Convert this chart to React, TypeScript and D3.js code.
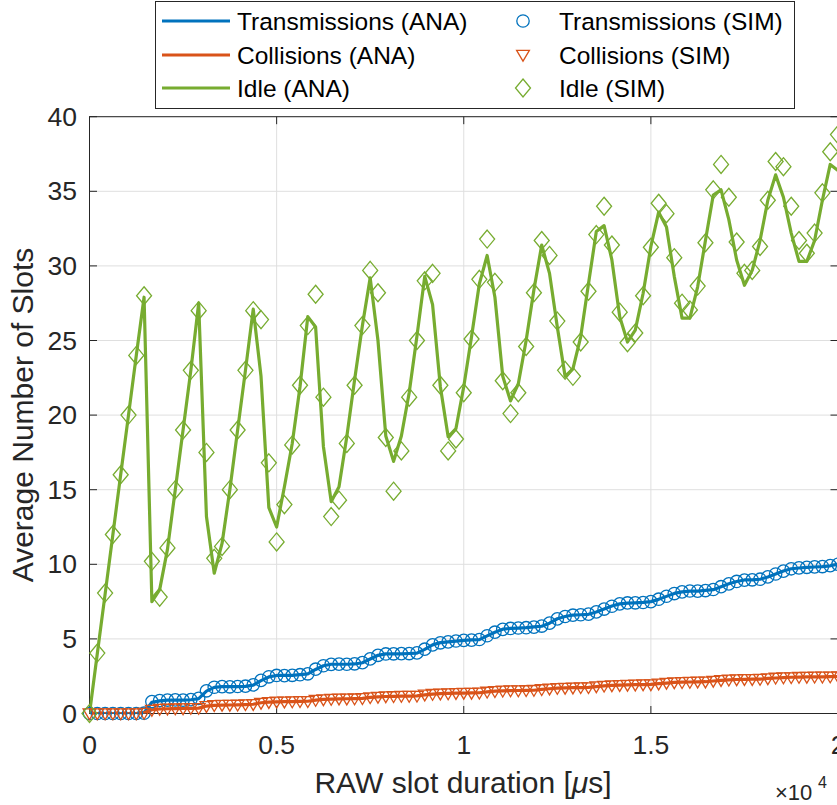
import React from "react";
import * as d3 from "d3";

const xValues = [0, 208, 417, 625, 833, 1042, 1250, 1458, 1667, 1875, 2083, 2292, 2500, 2708, 2917, 3125, 3333, 3542, 3750, 3958, 4167, 4375, 4583, 4792, 5000, 5208, 5417, 5625, 5833, 6042, 6250, 6458, 6667, 6875, 7083, 7292, 7500, 7708, 7917, 8125, 8333, 8542, 8750, 8958, 9167, 9375, 9583, 9792, 10000, 10208, 10417, 10625, 10833, 11042, 11250, 11458, 11667, 11875, 12083, 12292, 12500, 12708, 12917, 13125, 13333, 13542, 13750, 13958, 14167, 14375, 14583, 14792, 15000, 15208, 15417, 15625, 15833, 16042, 16250, 16458, 16667, 16875, 17083, 17292, 17500, 17708, 17917, 18125, 18333, 18542, 18750, 18958, 19167, 19375, 19583, 19792, 20000];

const transAna = [0, 0, 0, 0, 0, 0, 0, 0.05, 0.75, 0.85, 0.9, 0.9, 0.9, 0.92, 1.0, 1.5, 1.75, 1.8, 1.8, 1.8, 1.82, 1.9, 2.2, 2.45, 2.55, 2.55, 2.55, 2.6, 2.65, 2.95, 3.2, 3.3, 3.3, 3.3, 3.32, 3.4, 3.65, 3.9, 4.0, 4.0, 4.0, 4.02, 4.05, 4.3, 4.6, 4.75, 4.8, 4.85, 4.9, 4.93, 4.95, 5.2, 5.45, 5.65, 5.7, 5.72, 5.75, 5.8, 5.85, 6.05, 6.35, 6.5, 6.6, 6.62, 6.65, 6.8, 7.0, 7.2, 7.35, 7.4, 7.42, 7.45, 7.5, 7.65, 7.85, 8.05, 8.15, 8.2, 8.2, 8.25, 8.3, 8.5, 8.7, 8.85, 8.95, 8.95, 9.0, 9.15, 9.35, 9.55, 9.7, 9.75, 9.8, 9.82, 9.85, 9.9, 10.0];
const transSim = [0, 0, 0, 0, 0, 0, 0, 0.02, 0.8, 0.87, 0.9, 0.91, 0.9, 0.93, 1.02, 1.52, 1.76, 1.8, 1.79, 1.81, 1.83, 1.92, 2.22, 2.46, 2.55, 2.54, 2.56, 2.6, 2.66, 2.97, 3.2, 3.29, 3.31, 3.3, 3.33, 3.41, 3.66, 3.9, 3.99, 4.0, 4.01, 4.02, 4.06, 4.31, 4.6, 4.74, 4.8, 4.86, 4.9, 4.92, 4.96, 5.21, 5.45, 5.64, 5.7, 5.73, 5.75, 5.79, 5.86, 6.06, 6.34, 6.5, 6.59, 6.62, 6.66, 6.81, 7.0, 7.19, 7.35, 7.41, 7.42, 7.44, 7.5, 7.66, 7.86, 8.04, 8.15, 8.21, 8.2, 8.24, 8.31, 8.5, 8.69, 8.85, 8.94, 8.96, 9.0, 9.16, 9.35, 9.54, 9.7, 9.76, 9.8, 9.83, 9.85, 9.91, 10.0];

const collAna = [0, 0, 0, 0, 0, 0, 0, 0.05, 0.25, 0.3, 0.32, 0.33, 0.34, 0.35, 0.36, 0.5, 0.55, 0.56, 0.57, 0.58, 0.6, 0.62, 0.72, 0.76, 0.78, 0.79, 0.8, 0.81, 0.82, 0.9, 0.95, 0.97, 0.98, 0.99, 1.0, 1.01, 1.08, 1.12, 1.14, 1.15, 1.16, 1.17, 1.18, 1.25, 1.3, 1.33, 1.35, 1.36, 1.37, 1.38, 1.39, 1.45, 1.5, 1.52, 1.53, 1.54, 1.55, 1.56, 1.62, 1.66, 1.7, 1.72, 1.73, 1.74, 1.75, 1.8, 1.85, 1.88, 1.9, 1.92, 1.93, 1.94, 1.95, 2.0, 2.04, 2.08, 2.1, 2.11, 2.12, 2.13, 2.18, 2.22, 2.26, 2.28, 2.29, 2.3, 2.31, 2.35, 2.38, 2.41, 2.43, 2.44, 2.45, 2.45, 2.46, 2.47, 2.48];
const collSim = [0, 0, 0, 0, 0, 0, 0, 0.03, 0.24, 0.3, 0.31, 0.33, 0.34, 0.36, 0.36, 0.49, 0.55, 0.57, 0.57, 0.58, 0.61, 0.62, 0.71, 0.76, 0.79, 0.79, 0.8, 0.82, 0.82, 0.9, 0.94, 0.97, 0.99, 0.99, 1.0, 1.02, 1.08, 1.11, 1.14, 1.15, 1.17, 1.17, 1.18, 1.26, 1.3, 1.33, 1.34, 1.36, 1.38, 1.38, 1.39, 1.45, 1.49, 1.52, 1.54, 1.54, 1.55, 1.57, 1.62, 1.66, 1.7, 1.71, 1.73, 1.75, 1.75, 1.81, 1.85, 1.88, 1.9, 1.91, 1.93, 1.95, 1.95, 2.0, 2.05, 2.08, 2.09, 2.11, 2.13, 2.13, 2.18, 2.23, 2.26, 2.28, 2.3, 2.3, 2.31, 2.35, 2.39, 2.41, 2.42, 2.44, 2.45, 2.46, 2.46, 2.47, 2.48];

const idleAna = [0, 4, 8, 12, 16, 20, 24, 27.9, 7.5, 8.3, 11, 15, 19, 23, 27.5, 13.2, 9.4, 11.4, 15, 19, 23, 27.1, 22.6, 13.8, 12.5, 15.2, 18.1, 21.9, 26.6, 25.9, 17.9, 14.2, 15.2, 18.55, 22.35, 26.0, 29.2, 25.0, 18.6, 16.9, 18.6, 21.5, 25.3, 29.3, 27.4, 21.9, 18.55, 19.1, 21.9, 25.25, 28.8, 30.7, 27.9, 22.6, 20.95, 22.1, 25.0, 28.4, 31.4, 29.5, 25.9, 22.6, 23.1, 25.25, 28.8, 32.3, 32.7, 30.4, 26.6, 24.9, 25.7, 28.15, 31.3, 33.6, 32.6, 29.3, 26.5, 26.5, 28.6, 31.7, 34.75, 35.1, 33.1, 30.4, 28.7, 29.7, 31.7, 34.4, 36.1, 34.6, 32.2, 30.3, 30.3, 31.7, 34.4, 36.8, 36.4];
const idleSim = [0, 4.05, 8.07, 12, 16, 20, 24, 28, 10.2, 7.8, 11.1, 15, 19, 23, 27, 17.5, 10.4, 11.2, 15, 19, 23, 27, 26.4, 16.8, 11.5, 14, 18, 22, 26, 28.1, 21.2, 13.2, 14.3, 18.1, 22.0, 26.0, 29.7, 28.2, 18.5, 14.9, 17.6, 21.2, 25.0, 29.0, 29.5, 22.0, 17.6, 18.4, 21.5, 25.1, 29.1, 31.8, 28.9, 22.3, 20.1, 21.5, 24.6, 28.2, 31.7, 30.7, 26.3, 23.0, 22.6, 24.9, 28.3, 32.1, 34.0, 31.4, 26.9, 24.85, 25.5, 28.0, 31.25, 34.2, 33.5, 30.55, 27.5, 27.05, 28.65, 31.55, 35.1, 36.8, 34.6, 31.6, 29.5, 29.7, 31.3, 34.4, 37.0, 36.65, 34.0, 31.7, 30.85, 32.2, 34.9, 37.65, 38.8];

const xTicks = [0, 5000, 10000, 15000, 20000];
const xTickLabels = ["0", "0.5", "1", "1.5", "2"];
const yTicks = [0, 5, 10, 15, 20, 25, 30, 35, 40];

const legendAna = ["Transmissions (ANA)", "Collisions (ANA)", "Idle (ANA)"];
const legendSim = ["Transmissions (SIM)", "Collisions (SIM)", "Idle (SIM)"];

const W = 837;
const H = 805;
const L = 89.5, R = 838, T = 116.7, B = 713.5;
const BLUE = "#0072BD", RED = "#D95319", GREEN = "#77AC30";
const AX = "#262626";
const GRID = "#dfdfdf";
const FONT = "'Liberation Sans', Arial, Helvetica, sans-serif";

function markerPath(kind: string, cx: number, cy: number): string {
  if (kind === "o") {
    const r = 6.2;
    return `M${cx - r},${cy}a${r},${r} 0 1,0 ${2 * r},0a${r},${r} 0 1,0 ${-2 * r},0Z`;
  }
  if (kind === "v") {
    const hw = 6.4, top = 4.6, bot = 6.2;
    return `M${cx - hw},${cy - top}L${cx + hw},${cy - top}L${cx},${cy + bot}Z`;
  }
  const hw = 7.5, hh = 9;
  return `M${cx},${cy - hh}L${cx + hw},${cy}L${cx},${cy + hh}L${cx - hw},${cy}Z`;
}

export default function App() {
  const x = d3.scaleLinear().domain([0, 20000]).range([L, R]);
  const y = d3.scaleLinear().domain([0, 40]).range([B, T]);
  const line = d3
    .line<number>()
    .x((_, i) => x(xValues[i]))
    .y((d) => y(d));

  const anaSeries = [
    { data: transAna, color: BLUE },
    { data: collAna, color: RED },
    { data: idleAna, color: GREEN },
  ];
  const simSeries = [
    { data: transSim, color: BLUE, kind: "o" },
    { data: collSim, color: RED, kind: "v" },
    { data: idleSim, color: GREEN, kind: "d" },
  ];
  const tickLen = 7.5;
  const legendRows = [21, 55, 88];

  return (
    <svg
      width={W}
      height={H}
      style={{ position: "absolute", left: 0, top: 0, display: "block", background: "#fff" }}
      fontFamily={FONT}
    >
      <rect x={0} y={0} width={W} height={H} fill="#fff" />
      <defs>
        <clipPath id="plotclip">
          <rect x={L} y={T} width={R - L} height={B - T} />
        </clipPath>
      </defs>
      <g stroke={GRID} strokeWidth={1}>
        {xTicks.map((t) => (
          <line key={"gx" + t} x1={x(t)} x2={x(t)} y1={T} y2={B} />
        ))}
        {yTicks.map((t) => (
          <line key={"gy" + t} x1={L} x2={R} y1={y(t)} y2={y(t)} />
        ))}
      </g>
      <g stroke={AX} strokeWidth={1} fill="none">
        <rect x={L} y={T} width={R - L} height={B - T} />
        {xTicks.map((t) => (
          <g key={"tx" + t}>
            <line x1={x(t)} x2={x(t)} y1={B} y2={B - tickLen} />
            <line x1={x(t)} x2={x(t)} y1={T} y2={T + tickLen} />
          </g>
        ))}
        {yTicks.map((t) => (
          <g key={"ty" + t}>
            <line x1={L} x2={L + tickLen} y1={y(t)} y2={y(t)} />
            <line x1={R} x2={R - tickLen} y1={y(t)} y2={y(t)} />
          </g>
        ))}
      </g>
      <g clipPath="url(#plotclip)" fill="none">
        {anaSeries.map((s, k) => (
          <path key={"l" + k} d={line(s.data) || ""} stroke={s.color} strokeWidth={3.2} strokeLinejoin="round" />
        ))}
      </g>
      <g fill="none" strokeWidth={1.3}>
        {simSeries.map((s, k) => (
          <g key={"m" + k} stroke={s.color}>
            {s.data.map((v, i) => (
              <path key={i} d={markerPath(s.kind, x(xValues[i]), y(v))} />
            ))}
          </g>
        ))}
      </g>
      <g fill={AX} fontSize={26.5}>
        {xTicks.map((t, i) => (
          <text key={"xl" + t} x={x(t)} y={754} textAnchor="middle">
            {xTickLabels[i]}
          </text>
        ))}
        {yTicks.map((t) => (
          <text key={"yl" + t} x={77} y={y(t)} textAnchor="end" dominantBaseline="central">
            {t}
          </text>
        ))}
      </g>
      <text x={463} y={793} textAnchor="middle" fontSize={30} fill={AX}>
        RAW slot duration [<tspan fontStyle="italic">μ</tspan>s]
      </text>
      <text transform="translate(33,415) rotate(-90)" textAnchor="middle" fontSize={30} fill={AX}>
        Average Number of Slots
      </text>
      <text x={775} y={800} fontSize={22} fill={AX}>
        ×10
      </text>
      <text x={818} y={788} fontSize={16} fill={AX}>
        4
      </text>
      <rect x={155.5} y={1.5} width={639} height={107} fill="#fff" stroke={AX} strokeWidth={1} />
      {legendAna.map((name, k) => (
        <g key={"la" + k}>
          <line x1={162} x2={230} y1={legendRows[k]} y2={legendRows[k]} stroke={anaSeries[k].color} strokeWidth={3.2} />
          <text x={237} y={legendRows[k]} fontSize={24.5} fill="#000" dominantBaseline="central">
            {name}
          </text>
        </g>
      ))}
      {legendSim.map((name, k) => (
        <g key={"ls" + k}>
          <path d={markerPath(simSeries[k].kind, 523, legendRows[k])} fill="none" stroke={simSeries[k].color} strokeWidth={1.3} />
          <text x={559} y={legendRows[k]} fontSize={24.5} fill="#000" dominantBaseline="central">
            {name}
          </text>
        </g>
      ))}
    </svg>
  );
}
